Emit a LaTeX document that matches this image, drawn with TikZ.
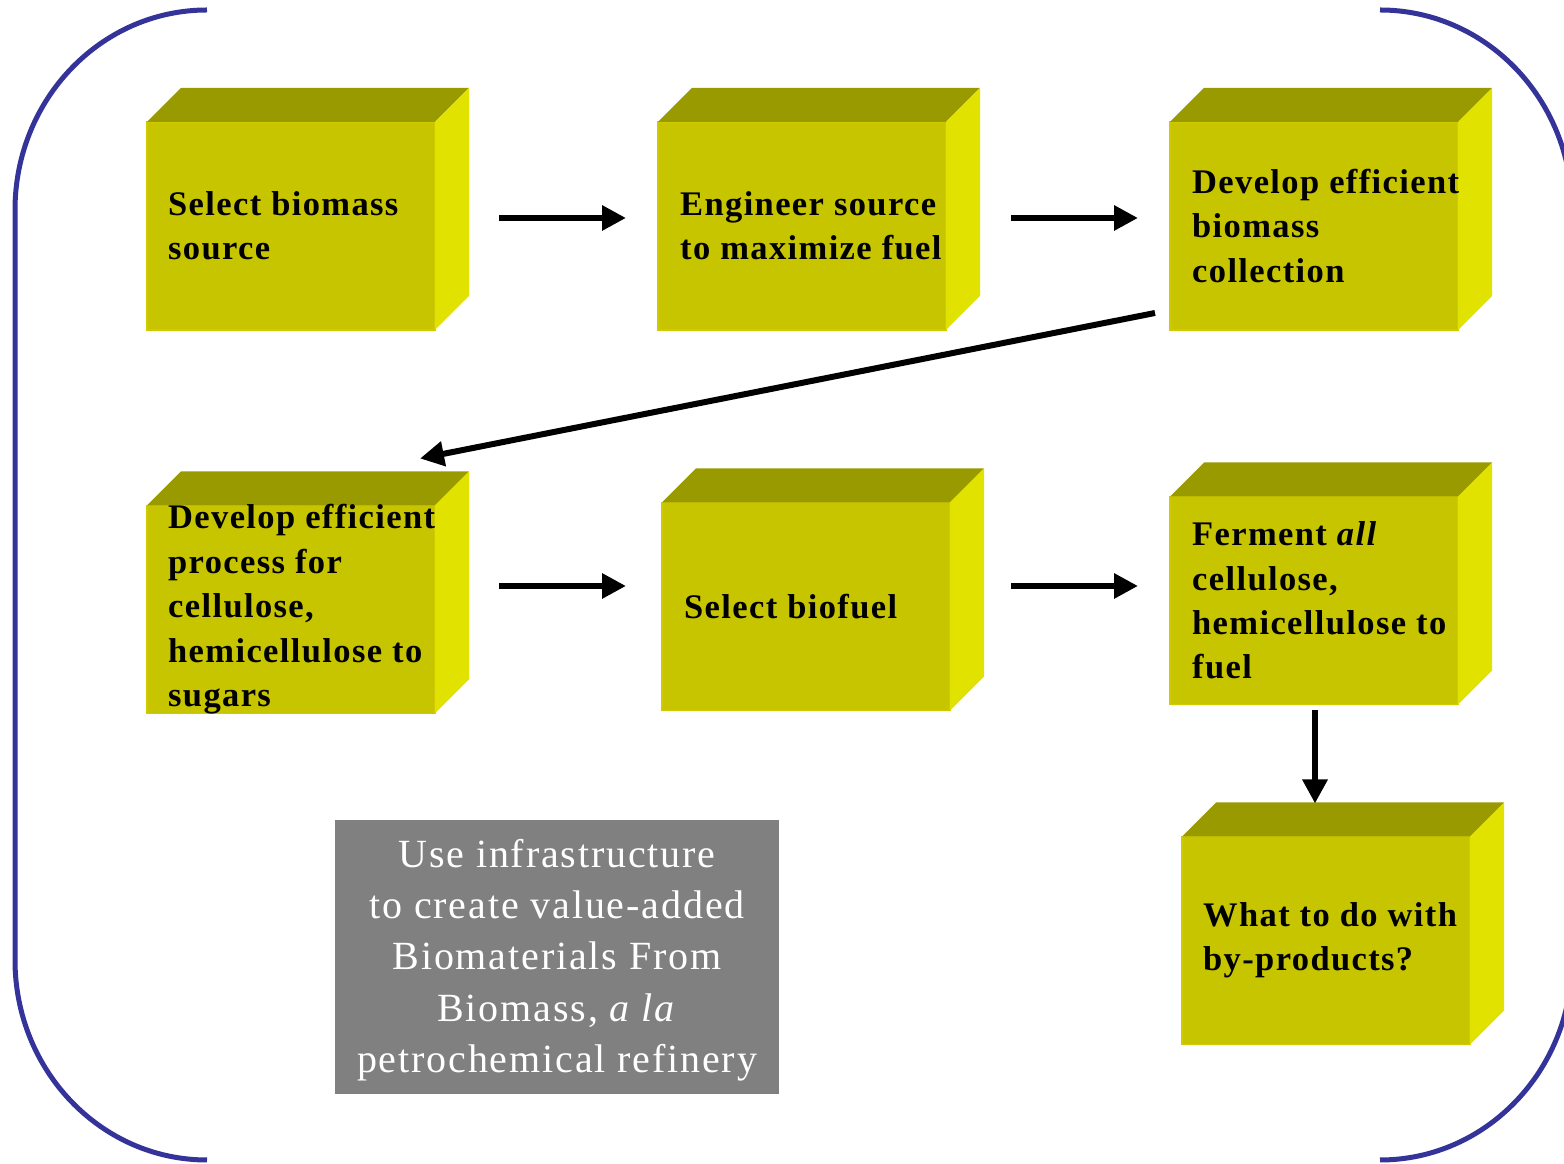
\documentclass[tikz,border=0pt]{standalone}
\usepackage{fontspec}
\setmainfont{Liberation Serif}
\newfontfamily\boxfont[LetterSpace=4]{Liberation Serif}
\newfontfamily\notefont[LetterSpace=4.6]{Liberation Serif}
\usetikzlibrary{arrows.meta}
\definecolor{cubefront}{RGB}{199,196,0}
\definecolor{cubetop}{RGB}{153,153,0}
\definecolor{cubeside}{RGB}{226,226,0}
\definecolor{cubeedge}{RGB}{210,202,0}
\definecolor{bracketblue}{RGB}{51,51,153}
\definecolor{panelgray}{RGB}{128,128,128}
\begin{document}
\begin{tikzpicture}[x=1pt,y=1pt,
  front/.style={fill=cubefront, draw=cubeedge, line width=1.5pt,
    minimum width=288pt, minimum height=208pt, inner sep=0pt, outer sep=0pt},
  boxtext/.style={anchor=west, align=left, inner sep=0pt,
    font=\boxfont\fontsize{34.5}{44.5}\selectfont\bfseries, text=black},
  panel/.style={fill=panelgray, minimum width=444pt, minimum height=274pt,
    inner sep=0pt},
  notetext/.style={align=center, text=white, inner sep=0pt,
    font=\notefont\fontsize{40}{51.3}\selectfont},
  arr/.style={line width=6pt, -{Triangle[length=24pt,width=24pt]}},
  bracket/.style={draw=bracketblue, line width=5pt}]
\useasboundingbox (0,0) rectangle (1564,1164);

% curved brackets framing the flow
\draw[bracket] (207,1154) arc[start angle=90, end angle=180, x radius=192, y radius=200]
  -- (15,204) arc[start angle=180, end angle=270, x radius=192, y radius=200];
\draw[bracket] (1380,1154) arc[start angle=90, end angle=0, x radius=192, y radius=200]
  -- (1572,204) arc[start angle=0, end angle=-90, x radius=192, y radius=200];

% front faces of the blocks
\node[front] (b1) at (291,938) {};
\node[front] (b2) at (802,938) {};
\node[front] (b3) at (1314,938) {};
\node[front] (b4) at (291,554.5) {};
\node[front] (b5) at (806,557.5) {};
\node[front] (b6) at (1314,563.5) {};
\node[front] (b7) at (1326,223.5) {};

% top and side faces give each block its depth
\foreach \n in {b1,b2,b3,b4,b5,b6,b7} {
  \fill[cubetop] (\n.north west) -- ([shift={(34,34)}]\n.north west)
    -- ([shift={(34,34)}]\n.north east) -- (\n.north east) -- cycle;
  \fill[cubeside] (\n.north east) -- ([shift={(34,34)}]\n.north east)
    -- ([shift={(34,34)}]\n.south east) -- (\n.south east) -- cycle;
}

% block captions
\node[boxtext] (t1) at ([xshift=21]b1.west) {Select biomass\\source};
\node[boxtext] (t2) at ([xshift=22]b2.west) {Engineer source\\to maximize fuel};
\node[boxtext] (t3) at ([xshift=22]b3.west) {Develop efficient\\biomass\\collection};
\node[boxtext] (t4) at ([xshift=21]b4.west) {Develop efficient\\process for\\cellulose,\\hemicellulose to\\sugars};
\node[boxtext] (t5) at ([xshift=22]b5.west) {Select biofuel};
\node[boxtext] (t6) at ([xshift=22]b6.west) {Ferment \textit{all}\\cellulose,\\hemicellulose to\\fuel};
\node[boxtext] (t7) at ([xshift=21]b7.west) {What to do with\\by-products?};

% grey note
\node[panel] (note) at (557,207) {};
\node[notetext] (notetxt) at ([yshift=-3]note.center) {Use infrastructure\\to create value-added\\Biomaterials From\\Biomass, \textit{a la}\\petrochemical refinery};

% flow arrows
\draw[arr, shorten <=64pt, shorten >=32pt] ([yshift=8]b1.east) -- ([yshift=8]b2.west);
\draw[arr, shorten <=65pt, shorten >=32pt] ([yshift=8]b2.east) -- ([yshift=8]b3.west);
\draw[arr] ([shift={(-15,17)}]b3.south west) -- ([shift={(-15,47)}]b4.north east);
\draw[arr, shorten <=64pt, shorten >=36pt] ([yshift=23.5]b4.east) -- ([yshift=20.5]b5.west);
\draw[arr, shorten <=61pt, shorten >=32pt] ([yshift=20.5]b5.east) -- ([yshift=14.5]b6.west);
\coordinate (b7top) at ([shift={(-11,33)}]b7.north);
\draw[arr, shorten <=6pt] (b6.south -| b7top) -- (b7top);
\end{tikzpicture}
\end{document}
